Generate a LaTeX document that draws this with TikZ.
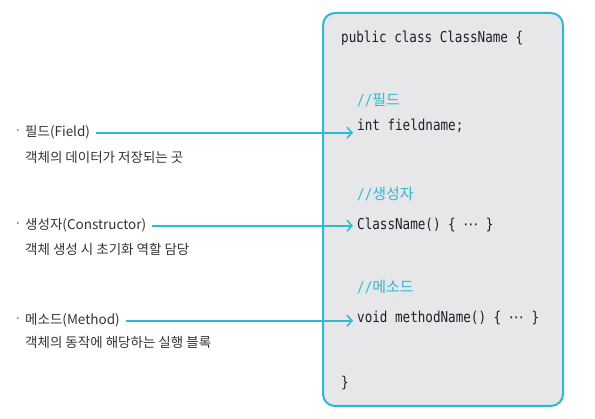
\documentclass[tikz,border=0pt]{standalone}
\usepackage{fontspec}
\setmainfont{Noto Sans CJK KR}
\newfontfamily\krfont{Noto Sans CJK KR}
\newfontfamily\codefont[FakeStretch=0.84]{DejaVu Sans Mono}
\newfontfamily\dotsfont{DejaVu Sans}
\usetikzlibrary{arrows.meta}

\definecolor{linecyan}{HTML}{2FB8CF}
\definecolor{boxgray}{HTML}{E7E7EA}
\definecolor{labelgray}{HTML}{333333}
\definecolor{codeblack}{HTML}{1E1E28}

\begin{document}
\begin{tikzpicture}[x=1pt, y=-1pt]
    \tikzset{
        membername/.style={anchor=base west, inner sep=0pt, text=labelgray, font=\fontsize{13.5}{16}\selectfont},
        memberdesc/.style={anchor=base west, inner sep=0pt, text=labelgray, font=\fontsize{13.5}{16}\selectfont},
        bulletdot/.style={anchor=base, inner sep=0pt, text=labelgray, font=\fontsize{11}{13}\selectfont},
        codeline/.style={anchor=base west, inner sep=0pt, text=codeblack, font=\fontsize{15}{18}\selectfont\codefont},
        codecomment/.style={codeline, text=linecyan},
        pointer/.style={linecyan, line width=1.6pt, -{Straight Barb[length=5pt, width=11pt, line width=1.5pt]}, shorten <=6pt, shorten >=4pt}
    }

    \useasboundingbox (0,0) rectangle (595,419);

    % class box
    \draw[linecyan, line width=2pt, fill=boxgray, rounded corners=12pt] (323,13) rectangle (563,406);

    \node[codeline] (classhead) at (341,43) {public class ClassName \{};
    \node[codecomment] (fieldnote) at (357,106) {//{\krfont 필드}};
    \node[codeline] (fieldcode) at (357,131) {int fieldname;};
    \node[codecomment] (ctornote) at (357,200) {//{\krfont 생성자}};
    \node[codeline] (ctorcode) at (357,230) {ClassName() \{ {\dotsfont ⋯} \}};
    \node[codecomment] (methodnote) at (357,293) {//{\krfont 메소드}};
    \node[codeline] (methodcode) at (357,323) {void methodName() \{ {\dotsfont ⋯} \}};
    \node[codeline] (classtail) at (341,388) {\}};

    % members on the left
    \node[bulletdot] (fielddot) at (18,135) {·};
    \node[membername] (field) at (25,137) {필드(Field)};
    \node[memberdesc] (fielddesc) at (25,163) {객체의 데이터가 저장되는 곳};

    \node[bulletdot] (ctordot) at (18,228) {·};
    \node[membername] (ctor) at (25,230) {생성자(Constructor)};
    \node[memberdesc] (ctordesc) at (25,255) {객체 생성 시 초기화 역할 담당};

    \node[bulletdot] (methoddot) at (18,323) {·};
    \node[membername] (method) at (25,325) {메소드(Method)};
    \node[memberdesc] (methoddesc) at (25,348) {객체의 동작에 해당하는 실행 블록};

    \draw[pointer] (field.east) -- (field.east -| fieldcode.west);
    \draw[pointer] (ctor.east) -- (ctor.east -| ctorcode.west);
    \draw[pointer] (method.east) -- (method.east -| methodcode.west);
\end{tikzpicture}
\end{document}
